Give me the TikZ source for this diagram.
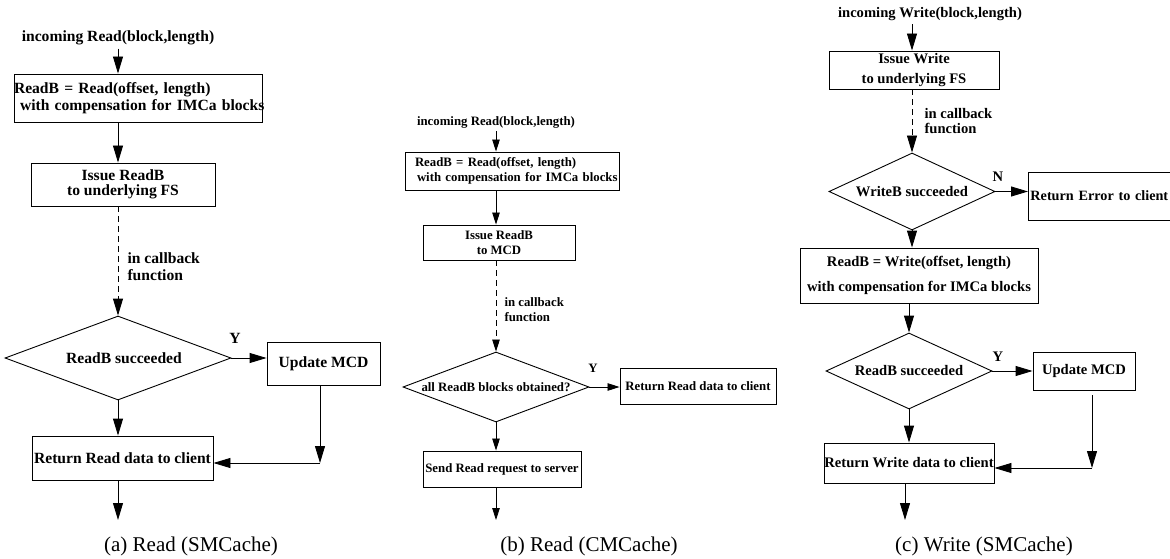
\documentclass[tikz,border=0pt]{standalone}
\usepackage{fontspec}
\setmainfont{Liberation Serif}
\usetikzlibrary{shapes.geometric,arrows.meta,calc}
\begin{document}
\begin{tikzpicture}[x=1pt,y=-1pt,
  box/.style={draw, line width=0.9pt, inner sep=0pt, align=center},
  dia/.style={draw, diamond, line width=0.9pt, inner sep=0pt},
  fa/.style={font=\fontsize{15.6}{17}\selectfont\bfseries},
  fb/.style={font=\fontsize{12.8}{15}\selectfont\bfseries},
  fc/.style={font=\fontsize{14.6}{17}\selectfont\bfseries},
  captext/.style={font=\fontsize{21}{24}\selectfont},
  arrA/.style={-{Triangle[length=17pt,width=10pt]}, line width=0.9pt},
  arrB/.style={-{Triangle[length=12pt,width=7.5pt]}, line width=0.8pt},
  arrC/.style={-{Triangle[length=17pt,width=10pt]}, line width=0.9pt},
  dsh/.style={dash pattern=on 6pt off 4pt},
]
\useasboundingbox[fill=white] (0,0) rectangle (1170,559);

% ---------------- panel (a) ----------------
\node[fa] (inA) at (118,38) {incoming Read(block,length)};
\node[box,fa,align=left,text width=248pt,minimum height=48pt] (a1) at (138,98)
  {\mbox{ReadB = Read(offset, length)}\\\mbox{\hspace*{6pt}with compensation for IMCa blocks}};
\node[box,fa,minimum width=184pt,minimum height=43pt] (a2) at (123,184.5)
  {Issue ReadB\\[-2pt]to underlying FS};
\node[dia,fa,aspect=2.7,minimum width=226pt,minimum height=84pt] (a3) at (118,358) {\hspace*{12pt}ReadB succeeded};
\node[box,fa,minimum width=113pt,minimum height=43pt] (a4) at (323.5,363.5) {Update MCD};
\node[box,fa,minimum width=181pt,minimum height=44pt] (a5) at (122.5,458) {Return Read data to client};
\node[fa] (aY) at (235,338) {Y};
\node[fa,align=left,anchor=west] (aL) at (124,267) {in callback\\function};
\coordinate (a7) at (320,463);
\coordinate (a6) at (118,520);
\node[captext] (capA) at (191,546) {(a) Read (SMCache)};

\draw[arrA] (inA.south) -- (a1.north -| inA.south);
\draw[arrA] (a1.south -| inA) -- (a2.north -| inA);
\draw[dsh,arrA] (a2.south -| a3.north) -- (a3.north);
\draw[arrA] (a3.east) -- (a4.west |- a3.east);
\draw[arrA] (a3.south) -- (a5.north -| a3.south);
\draw[arrA] (a4.south -| a7) -- (a7);
\draw[arrA] (a7) -- (a5.east |- a7);
\draw[arrA] (a5.south -| a6) -- (a6);

% ---------------- panel (b) ----------------
\node[fb] (inB) at (496,122) {incoming Read(block,length)};
\node[box,fb,align=left,text width=214pt,minimum height=38pt] (b1) at (512,171)
  {\mbox{\hspace*{10pt}ReadB = Read(offset, length)}\\\mbox{\hspace*{12pt}with compensation for IMCa blocks}};
\node[box,fb,minimum width=152pt,minimum height=35pt] (b2) at (499,242.5) {Issue ReadB\\to MCD};
\node[dia,fb,aspect=2.66,minimum width=186pt,minimum height=70pt] (b3) at (496,387) {all ReadB blocks obtained?};
\node[box,fb,minimum width=156pt,minimum height=36pt] (b4) at (698,386) {Return Read data to client};
\node[box,fb,minimum width=158pt,minimum height=36pt] (b5) at (502,469) {Send Read request to server};
\node[fb] (bY) at (593,368) {Y};
\node[fb,align=left,anchor=west] (bL) at (501,310) {in callback\\function};
\coordinate (b6) at (496,520);
\node[captext] (capB) at (589,546) {(b) Read (CMCache)};

\draw[arrB] (inB.south) -- (b1.north -| inB.south);
\draw[arrB] (b1.south -| inB) -- (b2.north -| inB);
\draw[dsh,arrB] (b2.south -| b3.north) -- (b3.north);
\draw[arrB] (b3.east) -- (b4.west |- b3.east);
\draw[arrB] (b3.south) -- (b5.north -| b3.south);
\draw[arrB] (b5.south -| b6) -- (b6);

% ---------------- panel (c) ----------------
\node[fc] (inC) at (930,14) {incoming Write(block,length)};
\node[box,fc,minimum width=170pt,minimum height=38pt] (c1) at (914,70) {Issue Write\\[3pt]to underlying FS};
\node[dia,fc,aspect=2.16,minimum width=166pt,minimum height=77pt] (c2) at (912,191.5) {WriteB succeeded};
\node[box,font=\fontsize{14.2}{17}\selectfont\bfseries,align=left,anchor=west,text width=196pt,inner xsep=2pt,minimum height=48pt] (c3) at (1028,196)
  {Return Error to client};
\node[fc] (cN) at (998,177) {N};
\node[fc,align=left,anchor=west] (cL) at (921,121) {in callback\\[-2pt]function};
\node[box,fc,minimum width=238pt,minimum height=55pt] (c4) at (919,275.5)
  {ReadB = Write(offset, length)\\[8pt]with compensation for IMCa blocks};
\node[dia,fc,aspect=2.17,minimum width=166pt,minimum height=76pt] (c5) at (909,371) {ReadB succeeded};
\node[box,fc,minimum width=102pt,minimum height=38pt] (c6) at (1084,371) {Update MCD};
\node[fc] (cY) at (998,357) {Y};
\node[box,fc,minimum width=170pt,minimum height=40pt] (c7) at (909,463) {Return Write data to client};
\coordinate (c8) at (1092,468);
\coordinate (c9) at (905,520);
\node[captext] (capC) at (984,546) {(c) Write (SMCache)};

\draw[arrC] (inC.south -| c2.north) -- (c1.north -| c2.north);
\draw[dsh,arrC] (c1.south -| c2.north) -- (c2.north);
\draw[arrC] (c2.east) -- (c3.west |- c2.east);
\draw[arrC] (c2.south) -- (c4.north -| c2.south);
\draw[arrC] (c4.south -| c5.north) -- (c5.north);
\draw[arrC] (c5.east) -- (c6.west |- c5.east);
\draw[arrC] (c5.south) -- (c7.north -| c5.south);
\draw[arrC] ($(c6.south -| c8)+(0,5)$) -- (c8);
\draw[arrC] (c8) -- (c7.east |- c8);
\draw[arrC] (c7.south -| c9) -- (c9);
\end{tikzpicture}
\end{document}
